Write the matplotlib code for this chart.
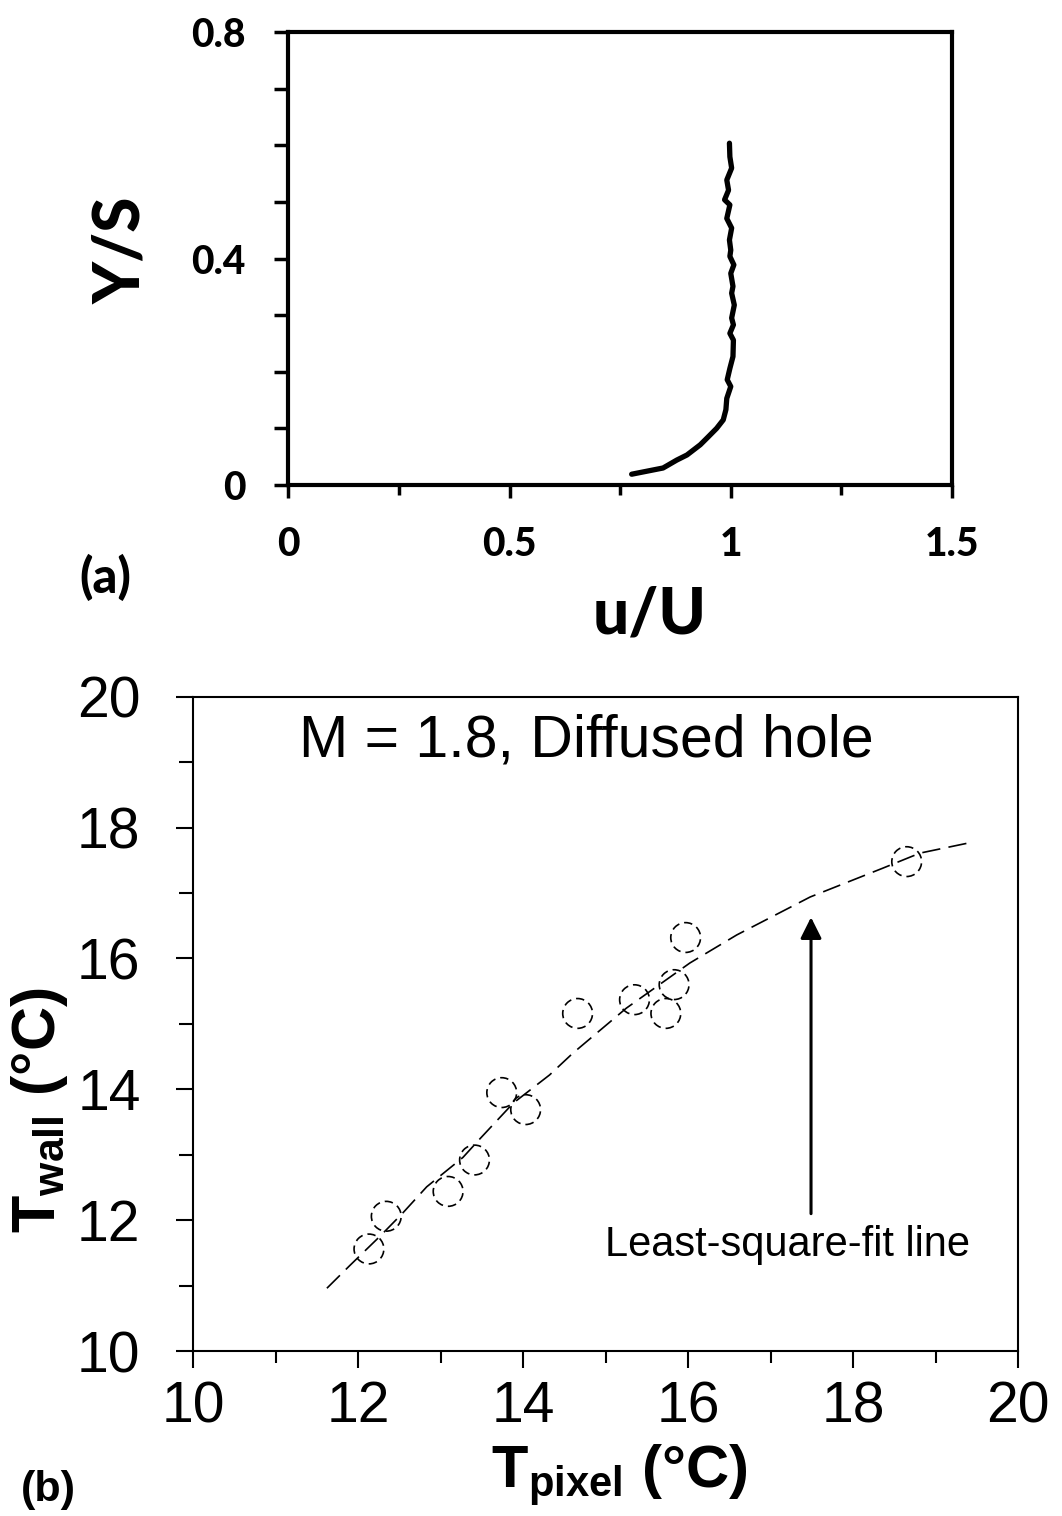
import matplotlib
matplotlib.use('Agg')
import matplotlib.pyplot as plt
from matplotlib.ticker import MultipleLocator, FuncFormatter

# (a) velocity profile
u_ratio = [0.776, 0.847, 0.878, 0.901, 0.931, 0.949, 0.968, 0.983, 0.989, 0.991,
           1.000, 0.992, 0.998, 1.005, 1.006, 0.998, 1.006, 1.002, 1.008, 1.002,
           1.005, 1.000, 1.007, 0.998, 1.000, 0.997, 1.002, 0.991, 0.998, 0.986,
           0.995, 0.991, 1.002, 0.998, 0.997]
y_s = [0.019, 0.030, 0.044, 0.053, 0.071, 0.085, 0.100, 0.115, 0.133, 0.153,
       0.174, 0.186, 0.206, 0.227, 0.256, 0.268, 0.283, 0.295, 0.318, 0.339,
       0.351, 0.374, 0.389, 0.404, 0.415, 0.433, 0.454, 0.471, 0.495, 0.504,
       0.521, 0.539, 0.560, 0.580, 0.604]

# (b) calibration points
t_pixel = [12.13, 12.34, 13.09, 13.41, 13.74, 14.03, 14.66, 15.35, 15.73, 15.83, 15.97, 18.65]
t_wall = [11.56, 12.06, 12.44, 12.92, 13.95, 13.69, 15.16, 15.37, 15.16, 15.60, 16.32, 17.48]

# least-square-fit line as drawn
fit_x = [11.62, 11.90, 12.26, 12.54, 12.83, 13.27, 13.48, 13.88, 14.32, 14.60,
         15.25, 16.02, 16.59, 17.48, 18.36, 18.81, 19.38]
fit_y = [10.96, 11.31, 11.75, 12.11, 12.51, 12.96, 13.25, 13.79, 14.22, 14.55,
         15.24, 15.93, 16.36, 16.94, 17.38, 17.61, 17.76]

calibri = 'Lato'
arial = 'Liberation Sans'
plt.rcParams['mathtext.fontset'] = 'custom'
plt.rcParams['mathtext.rm'] = 'Liberation Sans'
plt.rcParams['mathtext.bf'] = 'Liberation Sans:bold'

fig = plt.figure(figsize=(10.62, 15.16), dpi=100)

# ---- panel (a)
ax1 = fig.add_axes([0.2715, 0.6801, 0.6249, 0.2986])
ax1.plot(u_ratio, y_s, color='k', lw=3.8, solid_capstyle='round')
ax1.set_xlim(0, 1.5)
ax1.set_ylim(0, 0.8)
ax1.xaxis.set_major_locator(MultipleLocator(0.5))
ax1.xaxis.set_minor_locator(MultipleLocator(0.25))
ax1.yaxis.set_major_locator(MultipleLocator(0.4))
ax1.yaxis.set_minor_locator(MultipleLocator(0.1))
fmt = FuncFormatter(lambda v, p: '%g' % v)
ax1.xaxis.set_major_formatter(fmt)
ax1.yaxis.set_major_formatter(fmt)
for s in ax1.spines.values():
    s.set_linewidth(3)
ax1.tick_params(axis='x', which='major', direction='out', length=9.5, width=2.5, pad=20)
ax1.tick_params(axis='x', which='minor', direction='out', length=7, width=2.5)
ax1.tick_params(axis='y', which='both', direction='out', length=10, width=2.5, pad=21)
for lab in ax1.get_xticklabels() + ax1.get_yticklabels():
    lab.set_fontfamily(calibri)
    lab.set_fontweight('black')
    lab.set_fontsize(28)

fig.text(650 / 1062, 1 - 615 / 1516, 'u/U', ha='center', va='center',
         family=calibri, fontweight='black', fontsize=46)
fig.text(122 / 1062, 1 - 250 / 1516, 'Y/S', ha='center', va='center', rotation=90,
         family=calibri, fontweight='black', fontsize=46)
fig.text(105 / 1062, 1 - 577 / 1516, '(a)', ha='center', va='center',
         family=calibri, fontweight='black', fontsize=35)

# ---- panel (b)
ax2 = fig.add_axes([0.1820, 0.1088, 0.7766, 0.4316])
ax2.plot(fit_x, fit_y, color='k', lw=1.2, dashes=(11, 5))
ax2.scatter(t_pixel, t_wall, s=460, facecolors='none', edgecolors='k',
            linewidths=1.2, linestyles=(0, (5, 3)), zorder=3)
ax2.annotate('', xy=(17.49, 16.63), xytext=(17.49, 12.1),
             arrowprops=dict(arrowstyle='-|>', color='k', lw=2.2,
                             mutation_scale=32, shrinkA=0, shrinkB=0))
ax2.text(17.2, 11.62, 'Least-square-fit line', ha='center', va='center',
         family=arial, fontsize=30)
ax2.text(14.76, 19.08, 'M = 1.8, Diffused hole', ha='center', va='baseline',
         family=arial, fontsize=42.5)
ax2.set_xlim(10, 20)
ax2.set_ylim(10, 20)
ax2.xaxis.set_major_locator(MultipleLocator(2))
ax2.xaxis.set_minor_locator(MultipleLocator(1))
ax2.yaxis.set_major_locator(MultipleLocator(2))
ax2.yaxis.set_minor_locator(MultipleLocator(1))
for s in ax2.spines.values():
    s.set_linewidth(1.5)
ax2.tick_params(axis='x', which='major', direction='out', length=12, width=1.5, pad=9)
ax2.tick_params(axis='x', which='minor', direction='out', length=8.5, width=1.5)
ax2.tick_params(axis='y', which='major', direction='out', length=12, width=1.5, pad=26)
ax2.tick_params(axis='y', which='minor', direction='out', length=10, width=1.5)
for lab in ax2.get_xticklabels() + ax2.get_yticklabels():
    lab.set_fontfamily(arial)
    lab.set_fontsize(41)

fig.text(619 / 1062, 1 - 1488 / 1516, r'$\mathbf{T_{pixel}}$ (°C)', ha='center', va='baseline',
         family=arial, fontweight='bold', fontsize=43)
fig.text(55 / 1062, 1 - 1110 / 1516, r'$\mathbf{T_{wall}}$ (°C)', ha='center', va='baseline',
         rotation=90, rotation_mode='anchor', family=arial, fontweight='bold', fontsize=44)
fig.text(48 / 1062, 1 - 1490 / 1516, '(b)', ha='center', va='center',
         family=arial, fontweight='bold', fontsize=31)

fig.savefig('out.png', dpi=100)
